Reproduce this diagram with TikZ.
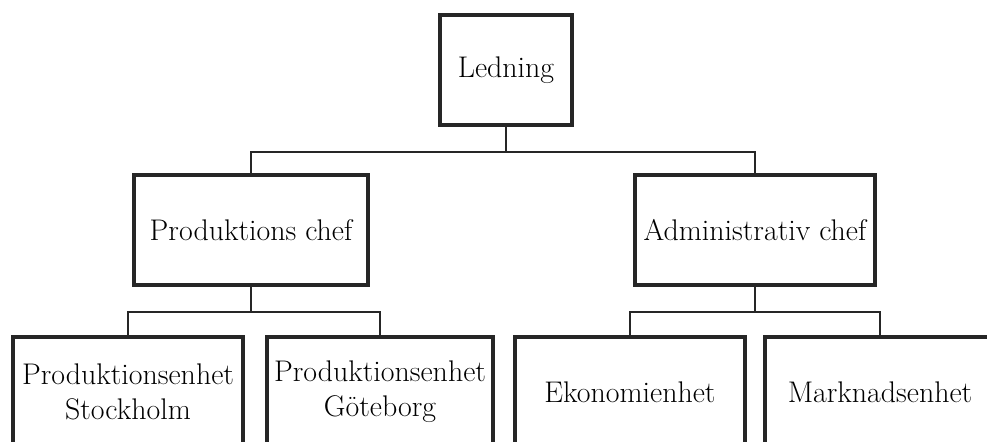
\documentclass[tikz,border=0pt]{standalone}
\usepackage{tikz}
\usetikzlibrary{shapes,arrows,positioning}
\tikzstyle{chart} = [draw=black!85, line width=2pt, fill=white, align=center, minimum height=2.2cm, inner sep=0pt, font=\fontsize{17}{20}\selectfont]
\tikzstyle{line} = [draw, line width=1.2pt, color=black!85]
\newcommand{\toppost}[2]{node (t#1) [chart, minimum width=2.64cm] {#2}}
\newcommand{\chefpost}[3]{node (c#1) [chart, minimum width=#2] {#3}}
\newcommand{\unitpost}[3]{node (u#1) [chart, minimum width=#2] {#3}}
\begin{document}
\begin{tikzpicture}
\useasboundingbox (0,0) rectangle (19.74,-8.82);
\clip (0,0) rectangle (19.74,-8.82);
\path (10.12,-1.40) \toppost{1}{Ledning};
\path (t1)+(-5.10,-3.20) \chefpost{1}{4.68cm}{Produktions chef};
\path (t1)+(4.98,-3.20) \chefpost{2}{4.80cm}{Administrativ chef};
\path [line] (t1.south) -- +(0,-0.5) coordinate (j1);
\path [line] (c1.north) |- (j1) -| (c2.north);

\path (c1)+(-2.46,-3.24) \unitpost{1}{4.60cm}{Produktionsenhet\\Stockholm};
\path (c1)+(2.58,-3.24) \unitpost{2}{4.52cm}{Produktionsenhet\\Göteborg};
\path [line] (c1.south) -- +(0,-0.5) coordinate (j2);
\path [line] (u1.north) |- (j2) -| (u2.north);

\path (c2)+(-2.50,-3.24) \unitpost{3}{4.60cm}{Ekonomienhet};
\path (c2)+(2.50,-3.24) \unitpost{4}{4.60cm}{Marknadsenhet};
\path [line] (c2.south) -- +(0,-0.5) coordinate (j3);
\path [line] (u3.north) |- (j3) -| (u4.north);
\end{tikzpicture}
\end{document}
